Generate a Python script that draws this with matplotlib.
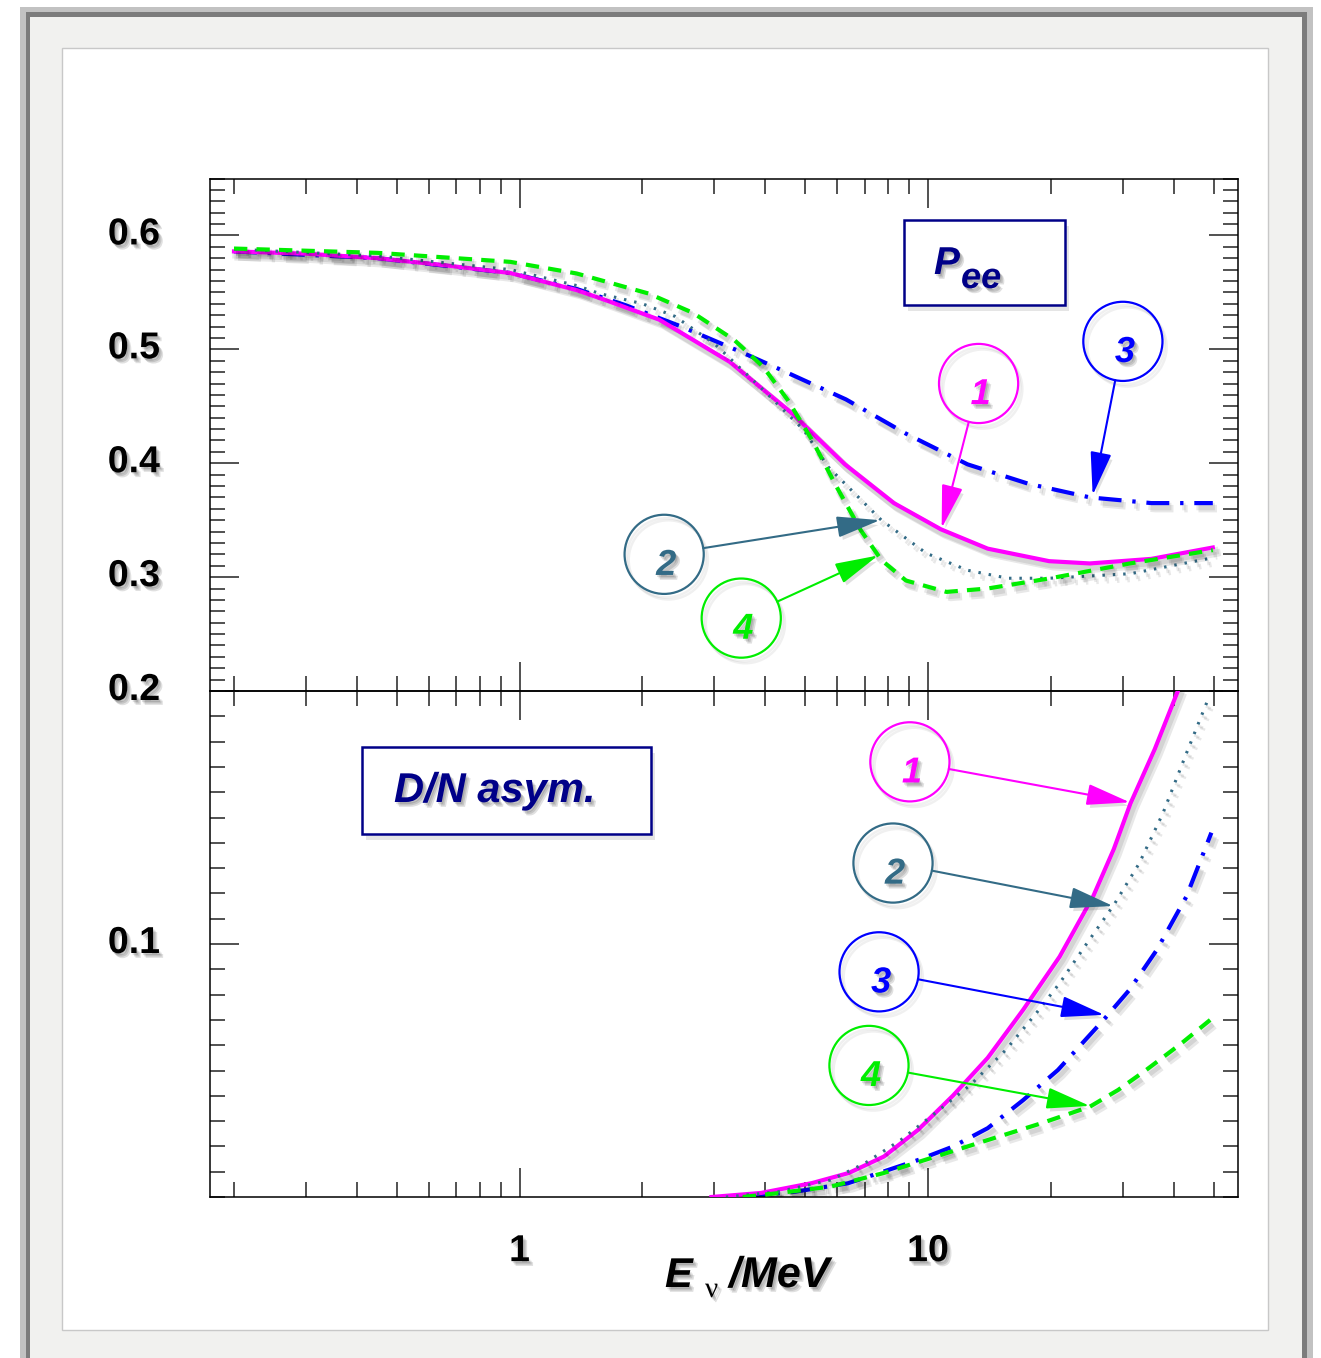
import matplotlib
matplotlib.use("Agg")
import matplotlib.pyplot as plt
from matplotlib import patheffects as pe
from matplotlib.patches import Rectangle, FancyArrowPatch
from matplotlib.ticker import FixedLocator, MultipleLocator, NullFormatter
from matplotlib.transforms import ScaledTranslation

W, H, DPI = 1321, 1358, 100

# ---- P_ee, upper panel ----
e_pee_1 = [0.2, 0.3, 0.45, 0.65, 0.95, 1.38, 1.66, 2.2, 3.27, 4.64, 6.26, 8.25, 10.75, 14.0, 19.8, 24.9, 35.2, 49.8]
pee_1 = [0.586, 0.584, 0.580, 0.574, 0.567, 0.552, 0.542, 0.526, 0.489, 0.444, 0.399, 0.365, 0.342, 0.325, 0.314, 0.312, 0.316, 0.326]

e_pee_2 = [0.2, 0.45, 0.95, 1.38, 1.57, 2.0, 2.4, 3.0, 3.96, 4.97, 5.69, 6.85, 7.69, 9.9, 12.5, 15.7, 19.8, 31.3, 49.8]
pee_2 = [0.588, 0.582, 0.570, 0.556, 0.549, 0.540, 0.529, 0.505, 0.464, 0.429, 0.397, 0.368, 0.350, 0.321, 0.306, 0.299, 0.299, 0.303, 0.317]

e_pee_3 = [0.2, 0.45, 0.95, 1.38, 1.81, 2.49, 3.52, 4.43, 6.3, 8.83, 12.5, 17.6, 24.9, 35.2, 49.8]
pee_3 = [0.586, 0.580, 0.567, 0.553, 0.539, 0.520, 0.497, 0.481, 0.456, 0.426, 0.399, 0.382, 0.370, 0.365, 0.365]

e_pee_4 = [0.2, 0.45, 0.95, 1.38, 2.07, 2.66, 3.36, 3.95, 4.54, 5.21, 5.98, 6.85, 7.69, 8.83, 11.1, 14.0, 19.8, 31.2, 49.8]
pee_4 = [0.5885, 0.5847, 0.5768, 0.5666, 0.549, 0.532, 0.508, 0.4846, 0.4553, 0.420, 0.379, 0.341, 0.315, 0.297, 0.287, 0.290, 0.2988, 0.312, 0.3237]

# ---- D/N asymmetry, lower panel ----
e_dn_1 = [2.95, 3.9, 5.2, 6.4, 7.8, 9.45, 11.5, 14.0, 17.1, 21.0, 25.4, 28.5, 31.3, 35.9, 40.9]
dn_1 = [0.0, 0.0016, 0.0055, 0.0095, 0.016, 0.0265, 0.040, 0.055, 0.074, 0.095, 0.119, 0.1375, 0.1555, 0.177, 0.200]

e_dn_2 = [3.2, 4.28, 5.77, 7.0, 8.57, 10.4, 12.7, 15.5, 18.4, 21.0, 24.5, 28.5, 32.9, 37.6, 42.9, 48.4]
dn_2 = [0.0, 0.002, 0.0067, 0.0133, 0.0225, 0.0331, 0.0443, 0.0581, 0.0726, 0.0845, 0.1003, 0.1154, 0.1319, 0.1517, 0.1753, 0.1964]

e_dn_3 = [3.52, 4.73, 6.36, 7.76, 9.45, 11.5, 14.0, 17.1, 20.8, 26.9, 31.1, 36.3, 42.9, 49.4]
dn_3 = [0.0, 0.0021, 0.0054, 0.010, 0.0146, 0.0199, 0.0272, 0.0383, 0.0502, 0.070, 0.0818, 0.0976, 0.1187, 0.144]

e_dn_4 = [3.52, 4.28, 5.77, 7.76, 10.4, 14.0, 18.9, 24.9, 29.2, 34.2, 41.7, 49.6]
dn_4 = [0.0, 0.0015, 0.0041, 0.0094, 0.0159, 0.0225, 0.0291, 0.0357, 0.0423, 0.0502, 0.0607, 0.0706]

curve_ids = ['1', '2', '3', '4']
colors = ['#ff00ff', '#336b86', '#0000ff', '#00ee00']
y_top_ticks = [0.2, 0.3, 0.4, 0.5, 0.6]
y_top_labels = ['0.2', '0.3', '0.4', '0.5', '0.6']
x_tick_labels = ['1', '10']

# where the numbered circles sit and where their arrows point (E, value)
top_circles = [(13.3, 0.470), (2.26, 0.320), (30.0, 0.507), (3.49, 0.264)]
top_tips = [(10.8, 0.343), (7.63, 0.350), (25.3, 0.372), (7.55, 0.319)]
bot_circles = [(9.03, 0.172), (8.21, 0.132), (7.59, 0.089), (7.17, 0.052)]
bot_tips = [(31.2, 0.156), (28.4, 0.115), (27.0, 0.072), (24.9, 0.036)]

plt.rcParams['font.family'] = ['Liberation Sans', 'DejaVu Sans']
NAVY = '#000088'


def fx(px):
    return px / W


def fy(py):
    return 1 - py / H


def text_fx(a=0.12):
    offs = [(1.0, -1.5), (2.0, -2.5), (3.0, -3.5)]
    return [pe.SimplePatchShadow(offset=o, shadow_rgbFace='k', alpha=a) for o in offs] + [pe.Normal()]


def line_fx(lw, a=0.09):
    offs = [(1.5, -2.5), (3.0, -4.0)]
    return [pe.SimpleLineShadow(offset=o, shadow_color='k', alpha=a, linewidth=lw * 1.8) for o in offs] + [pe.Normal()]


fig = plt.figure(figsize=(W / DPI, H / DPI), dpi=DPI)
fig.patch.set_facecolor('white')


def fig_rect(x0, y0, x1, y1, **kw):
    r = Rectangle((fx(x0), fy(y1)), (x1 - x0) / W, (y1 - y0) / H, transform=fig.transFigure, **kw)
    fig.add_artist(r)
    return r


# picture frame
fig_rect(20, 7, 1313, 1380, fc='#c2c2c2', ec='none', zorder=-10)
fig_rect(26, 12, 1307, 1380, fc='#7c7c7c', ec='none', zorder=-9)
fig_rect(30, 17, 1302, 1380, fc='#f1f1ef', ec='none', zorder=-8)
fig_rect(62, 48, 1268, 1330, fc='white', ec='#c8c8c8', lw=1, zorder=-7)

ax_top = fig.add_axes([fx(210), fy(691), (1238 - 210) / W, (691 - 178.5) / H])
ax_bot = fig.add_axes([fx(210), fy(1197), (1238 - 210) / W, (1197 - 691) / H])

styles = [
    dict(lw=3.0, ls='-', zorder=3),
    dict(lw=2.2, ls=(0, (0.8, 2.6)), zorder=4),
    dict(lw=3.0, ls=(0, (5.5, 2.6, 0.8, 2.6)), zorder=2),
    dict(lw=3.0, ls=(0, (3.2, 2.2)), zorder=5),
]

top_series = [(e_pee_1, pee_1), (e_pee_2, pee_2), (e_pee_3, pee_3), (e_pee_4, pee_4)]
bot_series = [(e_dn_1, dn_1), (e_dn_2, dn_2), (e_dn_3, dn_3), (e_dn_4, dn_4)]

for ax, series, circles, tips in [(ax_top, top_series, top_circles, top_tips),
                                  (ax_bot, bot_series, bot_circles, bot_tips)]:
    for (e, v), st, c in zip(series, styles, colors):
        ax.plot(e, v, color=c, path_effects=line_fx(st['lw']), **st)
    for cid, c, circ, tip in zip(curve_ids, colors, circles, tips):
        ax.plot([circ[0]], [circ[1]], marker='o', ms=57, mfc='none', mec=c, mew=1.6,
                zorder=7, path_effects=line_fx(1.0, 0.06))
        ax.annotate(cid, xy=circ, xytext=(1.5, -8), textcoords='offset points',
                    ha='center', va='center', fontsize=26, fontweight='bold',
                    fontstyle='italic', color=c, zorder=8, path_effects=text_fx())
        arr = FancyArrowPatch(posA=circ, posB=tip, transform=ax.transData,
                              arrowstyle='-|>,head_length=0.9,head_width=0.22',
                              mutation_scale=30, shrinkA=28.5, shrinkB=0,
                              lw=1.5, color=c, zorder=7,
                              path_effects=[pe.SimplePatchShadow(offset=(2, -3), shadow_rgbFace='k', alpha=0.12),
                                            pe.Normal()])
        ax.add_patch(arr)

x_minor = [m * 10.0 ** k for k in (-1, 0, 1) for m in range(2, 10)]
for ax in (ax_top, ax_bot):
    ax.set_facecolor('none')
    ax.set_xscale('log')
    ax.set_xlim(0.1747, 57.4)
    ax.xaxis.set_major_locator(FixedLocator([1, 10]))
    ax.xaxis.set_minor_locator(FixedLocator(x_minor))
    ax.xaxis.set_minor_formatter(NullFormatter())
    ax.yaxis.set_minor_locator(MultipleLocator(0.01))
    ax.tick_params(which='both', direction='in', top=True, right=True, width=1.1, color='#222222')
    ax.tick_params(which='major', length=21)
    ax.tick_params(which='minor', length=10.5)
    for s in ax.spines.values():
        s.set_linewidth(1.1)

ax_top.set_ylim(0.2, 0.65)
ax_top.set_yticks(y_top_ticks, y_top_labels, fontsize=27, fontweight='bold')
ax_top.tick_params(axis='x', labelbottom=False)
ax_top.tick_params(axis='y', pad=36)

ax_bot.set_ylim(0, 0.2)
ax_bot.set_yticks([0.1], ['0.1'], fontsize=27, fontweight='bold')
ax_bot.set_xticks([1, 10], x_tick_labels, fontsize=27, fontweight='bold')
ax_bot.xaxis.set_minor_locator(FixedLocator(x_minor))
ax_bot.tick_params(axis='y', pad=36)
ax_bot.tick_params(axis='x', pad=26)

lift = ScaledTranslation(0, 3.6 / 72, fig.dpi_scale_trans)
for ax in (ax_top, ax_bot):
    for lbl in ax.get_xticklabels():
        lbl.set_path_effects(text_fx())
    for lbl in ax.get_yticklabels():
        lbl.set_path_effects(text_fx())
        lbl.set_transform(lbl.get_transform() + lift)

# label boxes
for x0, y0, x1, y1 in [(904, 220, 1065, 305), (362, 747, 651, 834)]:
    fig_rect(x0, y0, x1, y1, fc='white', ec=NAVY, lw=1.8, zorder=5,
             path_effects=[pe.SimplePatchShadow(offset=(3, -4), shadow_rgbFace='k', alpha=0.1), pe.Normal()])

bi = dict(fontweight='bold', fontstyle='italic', va='baseline', ha='left', zorder=6)
fig.text(fx(934), fy(274), 'P', fontsize=28, color=NAVY, path_effects=text_fx(), **bi)
fig.text(fx(961), fy(288), 'ee', fontsize=26, color=NAVY, path_effects=text_fx(), **bi)
fig.text(fx(394), fy(802), 'D/N asym.', fontsize=30, color=NAVY, path_effects=text_fx(), **bi)

# axis title
fig.text(fx(665), fy(1287), 'E', fontsize=30, color='k', path_effects=text_fx(), **bi)
fig.text(fx(705), fy(1297), '\u03bd', fontsize=21, color='k', family=['Liberation Serif', 'DejaVu Serif'],
         va='baseline', ha='left', path_effects=text_fx())
fig.text(fx(729), fy(1287), '/MeV', fontsize=31, color='k', path_effects=text_fx(), **bi)

fig.savefig('out.png', dpi=DPI)
